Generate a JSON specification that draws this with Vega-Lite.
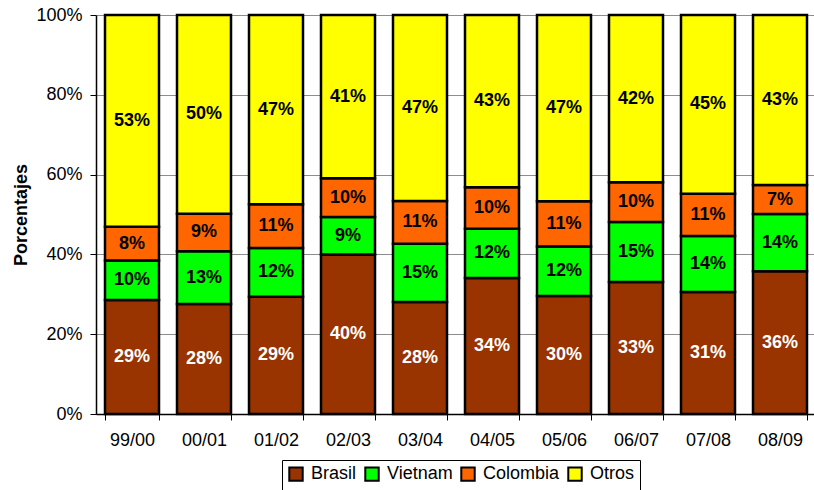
{
  "$schema": "https://vega.github.io/schema/vega-lite/v6.json",
  "autosize": {"type": "none"},
  "padding": {"left": 96, "top": 15, "right": 0, "bottom": 76},
  "width": 720,
  "height": 399,
  "background": "white",
  "config": {
    "font": "Liberation Sans",
    "view": {"stroke": null}
  },
  "data": {
    "values": [
      {"campana": "99/00", "pais": "Brasil", "valor": 28.6},
      {"campana": "99/00", "pais": "Vietnam", "valor": 9.9},
      {"campana": "99/00", "pais": "Colombia", "valor": 8.4},
      {"campana": "99/00", "pais": "Otros", "valor": 53.1},
      {"campana": "00/01", "pais": "Brasil", "valor": 27.6},
      {"campana": "00/01", "pais": "Vietnam", "valor": 13.2},
      {"campana": "00/01", "pais": "Colombia", "valor": 9.4},
      {"campana": "00/01", "pais": "Otros", "valor": 49.8},
      {"campana": "01/02", "pais": "Brasil", "valor": 29.4},
      {"campana": "01/02", "pais": "Vietnam", "valor": 12.2},
      {"campana": "01/02", "pais": "Colombia", "valor": 11.0},
      {"campana": "01/02", "pais": "Otros", "valor": 47.4},
      {"campana": "02/03", "pais": "Brasil", "valor": 40.0},
      {"campana": "02/03", "pais": "Vietnam", "valor": 9.4},
      {"campana": "02/03", "pais": "Colombia", "valor": 9.7},
      {"campana": "02/03", "pais": "Otros", "valor": 40.9},
      {"campana": "03/04", "pais": "Brasil", "valor": 28.1},
      {"campana": "03/04", "pais": "Vietnam", "valor": 14.6},
      {"campana": "03/04", "pais": "Colombia", "valor": 10.7},
      {"campana": "03/04", "pais": "Otros", "valor": 46.6},
      {"campana": "04/05", "pais": "Brasil", "valor": 34.1},
      {"campana": "04/05", "pais": "Vietnam", "valor": 12.3},
      {"campana": "04/05", "pais": "Colombia", "valor": 10.4},
      {"campana": "04/05", "pais": "Otros", "valor": 43.2},
      {"campana": "05/06", "pais": "Brasil", "valor": 29.6},
      {"campana": "05/06", "pais": "Vietnam", "valor": 12.4},
      {"campana": "05/06", "pais": "Colombia", "valor": 11.3},
      {"campana": "05/06", "pais": "Otros", "valor": 46.7},
      {"campana": "06/07", "pais": "Brasil", "valor": 33.1},
      {"campana": "06/07", "pais": "Vietnam", "valor": 15.0},
      {"campana": "06/07", "pais": "Colombia", "valor": 10.0},
      {"campana": "06/07", "pais": "Otros", "valor": 41.9},
      {"campana": "07/08", "pais": "Brasil", "valor": 30.6},
      {"campana": "07/08", "pais": "Vietnam", "valor": 14.0},
      {"campana": "07/08", "pais": "Colombia", "valor": 10.6},
      {"campana": "07/08", "pais": "Otros", "valor": 44.8},
      {"campana": "08/09", "pais": "Brasil", "valor": 35.8},
      {"campana": "08/09", "pais": "Vietnam", "valor": 14.3},
      {"campana": "08/09", "pais": "Colombia", "valor": 7.3},
      {"campana": "08/09", "pais": "Otros", "valor": 42.6}
    ]
  },
  "transform": [
    {"calculate": "indexof(['Brasil','Vietnam','Colombia','Otros'], datum.pais)", "as": "orden"},
    {"stack": "valor", "groupby": ["campana"], "sort": [{"field": "orden", "order": "ascending"}], "as": ["v0", "v1"]},
    {"calculate": "(datum.v0 + datum.v1) / 2", "as": "medio"},
    {"calculate": "format(datum.valor, '.0f') + '%'", "as": "etiqueta"}
  ],
  "encoding": {
    "x": {
      "field": "campana",
      "type": "nominal",
      "sort": ["99/00", "00/01", "01/02", "02/03", "03/04", "04/05", "05/06", "06/07", "07/08", "08/09"],
      "scale": {"paddingInner": 0.25, "paddingOuter": 0.125},
      "axis": {
        "title": null,
        "labelAngle": 0,
        "labelFontSize": 18,
        "labelColor": "black",
        "labelPadding": 11,
        "tickBand": "extent",
        "tickSize": 6,
        "tickColor": "black",
        "domainColor": "black",
        "domainWidth": 1.5,
        "grid": false
      }
    }
  },
  "layer": [
    {
      "mark": {"type": "bar", "stroke": "black", "strokeWidth": 2.5},
      "encoding": {
        "y": {
          "field": "v0",
          "type": "quantitative",
          "scale": {"domain": [0, 100]},
          "axis": {
            "title": "Porcentajes",
            "titleFontSize": 18,
            "titleFontWeight": "bold",
            "titleColor": "black",
            "titlePadding": 5,
            "values": [0, 20, 40, 60, 80, 100],
            "labelExpr": "datum.value + '%'",
            "labelFontSize": 18,
            "labelColor": "black",
            "labelPadding": 8,
            "tickSize": 6,
            "tickColor": "black",
            "domainColor": "black",
            "domainWidth": 1.5,
            "grid": true,
            "gridColor": "#8c8c8c",
            "gridWidth": 1
          }
        },
        "y2": {"field": "v1"},
        "color": {
          "field": "pais",
          "type": "nominal",
          "scale": {
            "domain": ["Brasil", "Vietnam", "Colombia", "Otros"],
            "range": ["#993300", "#00ff00", "#ff6600", "#ffff00"]
          },
          "legend": {
            "title": null,
            "orient": "none",
            "legendX": 186,
            "legendY": 445,
            "direction": "horizontal",
            "symbolType": "square",
            "symbolSize": 180,
            "symbolStrokeColor": "black",
            "symbolStrokeWidth": 2,
            "symbolOpacity": 1,
            "labelFontSize": 18,
            "labelColor": "black",
            "labelOffset": 6,
            "columnPadding": 4,
            "padding": 5,
            "strokeColor": "black",
            "fillColor": "white"
          }
        }
      }
    },
    {
      "mark": {"type": "text", "fontSize": 18, "fontWeight": "bold", "baseline": "middle", "align": "center"},
      "encoding": {
        "y": {"field": "medio", "type": "quantitative"},
        "text": {"field": "etiqueta"},
        "color": {
          "condition": {"test": "datum.pais === 'Brasil'", "value": "white"},
          "value": "black"
        }
      }
    }
  ]
}
